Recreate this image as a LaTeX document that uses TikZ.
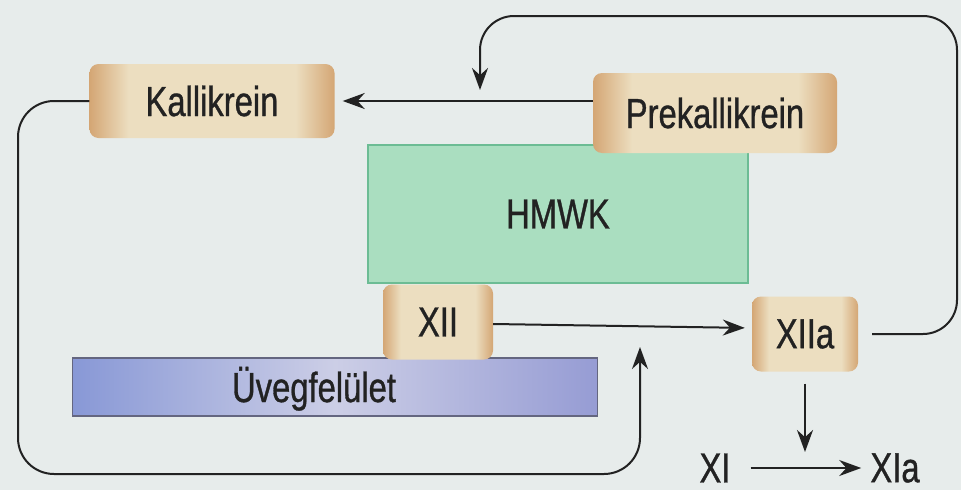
\documentclass[tikz,border=0pt]{standalone}
\usepackage{fontspec}
\setmainfont[FakeStretch=0.78, FakeBold=0.8]{Liberation Sans}
\usetikzlibrary{arrows.meta}

\definecolor{paper}{RGB}{231,236,235}
\definecolor{tanmid}{RGB}{236,222,192}
\definecolor{tanedge}{RGB}{212,166,116}
\definecolor{mint}{RGB}{170,222,192}
\definecolor{mintline}{RGB}{108,188,148}
\definecolor{glassleft}{RGB}{136,152,214}
\definecolor{glassmid}{RGB}{204,206,230}
\definecolor{glassright}{RGB}{150,156,212}
\definecolor{glassline}{RGB}{100,102,128}
\definecolor{ink}{RGB}{34,34,34}

\pgfdeclarehorizontalshading{tanshade}{100bp}{color(0bp)=(tanedge); color(25bp)=(tanedge); color(33bp)=(tanmid); color(67bp)=(tanmid); color(75bp)=(tanedge); color(100bp)=(tanedge)}

\begin{document}
\begin{tikzpicture}[x=1pt, y=-1pt,
    txt/.style={text=ink, font=\fontsize{42}{50}\selectfont, inner sep=0pt},
    factor/.style={txt, shading=tanshade, rounded corners=9pt},
    arr/.style={-{Stealth[length=22pt,width=16pt]}, line width=2pt, draw=ink}]

    % background
    \fill[paper] (0,0) rectangle (961,490);
    \useasboundingbox (0,0) rectangle (961,490);

    % HMWK (green)
    \node[txt, draw=mintline, line width=2pt, fill=mint, minimum width=380pt, minimum height=138pt] (hmwk) at (558,214) {HMWK};

    % glass surface
    \node[draw=glassline, line width=1.5pt, left color=glassleft, right color=glassright, middle color=glassmid, minimum width=525pt, minimum height=58pt, inner sep=0pt] (glass) at (335,387) {};
    \node[txt, anchor=base] (glasstext) at (314,402) {Üvegfelület};

    % factors
    \node[factor, minimum width=245pt, minimum height=74pt] (kal) at (212,101) {Kallikrein};
    \node[factor, minimum width=244pt, minimum height=80pt] (prek) at (715,113) {Prekallikrein};
    \node[factor, minimum width=110pt, minimum height=75pt] (xii) at (438,322) {XII};
    \node[factor, minimum width=106pt, minimum height=75pt] (xiia) at (805,334) {XIIa};

    % XI -> XIa
    \node[txt] (xi) at (715,468) {XI};
    \node[txt] (xia) at (895,468) {XIa};

    % free ends
    \coordinate (loopTR) at (957,16);
    \coordinate (kalhit) at (480,90);
    \coordinate (loopBL) at (18,474);
    \coordinate (xiihit) at (640,347);
    \coordinate (xistep) at (805,452);

    % connectors
    \draw[arr, shorten >=8pt] (prek.west |- kal.east) -- (kal.east);
    \draw[arr, shorten >=7pt] ([yshift=-2pt]xii.east) -- ([yshift=6pt]xiia.west);
    \draw[arr, rounded corners=34pt] ([xshift=14pt]xiia.east) -| (loopTR) -| (kalhit);
    \draw[arr, rounded corners=36pt] (kal.west) -| (loopBL) -| (xiihit);
    \draw[arr, shorten <=12pt] (xiia.south) -- (xistep);
    \draw[arr, shorten <=20pt, shorten >=9pt] (xi.east) -- (xia.west);
\end{tikzpicture}
\end{document}
